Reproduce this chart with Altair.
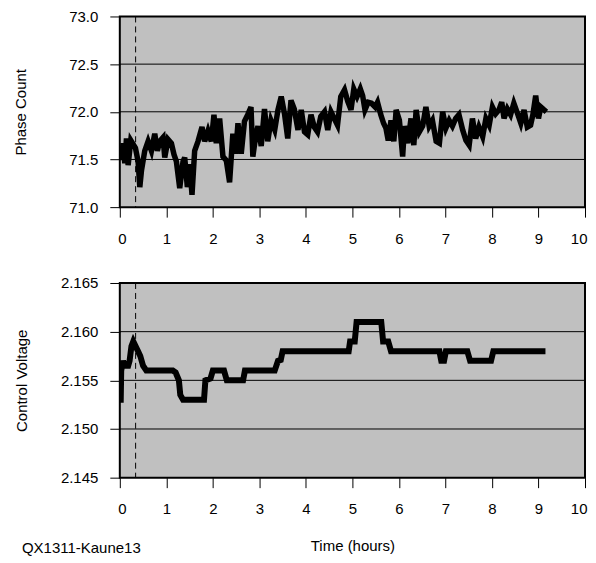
import altair as alt
import pandas as pd

FONT = "Liberation Sans"
FS = 15
W = 466
H1 = 191
H2 = 195

# ---- data ----
phase_t = [0.00, 0.04, 0.07, 0.107, 0.143, 0.179, 0.236, 0.286, 0.336, 0.393, 0.43, 0.465,
           0.536, 0.608, 0.68, 0.751, 0.808, 0.858, 0.93, 0.966, 1.037, 1.109, 1.166, 1.216,
           1.288, 1.359, 1.395, 1.452, 1.502, 1.552, 1.609, 1.681, 1.767, 1.824, 1.896, 1.967,
           2.024, 2.074, 2.146, 2.217, 2.289, 2.36, 2.43, 2.49, 2.54, 2.61, 2.68, 2.75, 2.82,
           2.86, 2.92, 2.97, 3.04, 3.11, 3.18, 3.25, 3.33, 3.40, 3.47, 3.54, 3.61, 3.68, 3.75,
           3.83, 3.90, 3.97, 4.04, 4.11, 4.18, 4.25, 4.32, 4.40, 4.47, 4.54, 4.61, 4.68, 4.75,
           4.83, 4.90, 4.97, 5.03, 5.10, 5.17, 5.22, 5.27, 5.34, 5.41, 5.49, 5.54, 5.61, 5.67,
           5.72, 5.77, 5.83, 5.89, 5.94, 6.01, 6.08, 6.12, 6.19, 6.26, 6.32, 6.37, 6.44, 6.51,
           6.58, 6.65, 6.72, 6.80, 6.87, 6.94, 7.01, 7.08, 7.15, 7.22, 7.29, 7.37, 7.44, 7.51,
           7.58, 7.65, 7.72, 7.80, 7.87, 7.94, 8.01, 8.08, 8.15, 8.21, 8.26, 8.33, 8.40, 8.47,
           8.55, 8.62, 8.69, 8.76, 8.83, 8.88, 8.94, 9.00, 9.05, 9.12, 9.17]
phase_v = [71.55, 71.50, 71.67, 71.46, 71.72, 71.44, 71.70, 71.66, 71.62, 71.48, 71.21, 71.38,
           71.59, 71.69, 71.59, 71.77, 71.59, 71.69, 71.73, 71.52, 71.71, 71.67, 71.55, 71.48,
           71.20, 71.48, 71.52, 71.21, 71.45, 71.13, 71.59, 71.69, 71.84, 71.69, 71.80, 71.69,
           71.97, 71.67, 71.93, 71.53, 71.49, 71.26, 71.77, 71.56, 71.88, 71.56, 71.90, 71.97, 72.05,
           71.53, 71.74, 71.85, 71.64, 72.03, 71.69, 71.91, 71.81, 72.02, 72.16, 71.98, 71.72, 72.12, 72.03,
           71.81, 72.02, 71.79, 71.76, 71.97, 71.84, 71.79, 71.95, 72.00, 71.81, 72.00, 71.93, 71.86, 72.16,
           72.23, 72.11, 72.02, 72.24, 72.16, 72.24, 72.17, 72.02, 72.10, 72.09, 72.05, 72.10, 71.97, 71.88,
           71.83, 71.70, 71.91, 71.69, 72.02, 71.91, 71.53, 71.85, 71.67, 71.93, 71.65, 72.02, 71.79, 71.85,
           72.05, 71.85, 71.91, 71.69, 71.67, 72.00, 71.83, 71.91, 71.85, 71.93, 71.97, 71.81, 71.70, 71.65,
           71.93, 71.72, 71.84, 71.74, 71.93, 71.86, 72.05, 71.98, 72.02, 72.10, 71.93, 72.03, 71.97, 72.09,
           71.98, 71.88, 72.02, 71.84, 71.86, 71.97, 72.17, 71.93, 72.05, 72.02, 72.00]

volt_t = [0.00, 0.02, 0.03, 0.05, 0.07, 0.10, 0.14, 0.18, 0.21, 0.25, 0.29, 0.34, 0.39, 0.44,
          0.50, 0.57, 1.14, 1.20, 1.27, 1.30, 1.36, 1.81, 1.84, 1.95, 2.00, 2.24, 2.30, 2.65,
          2.69, 3.33, 3.40, 3.46, 3.50, 4.92, 4.95, 5.05, 5.09, 5.62, 5.66, 5.77, 5.83, 6.87,
          6.91, 6.97, 7.01, 7.47, 7.53, 7.98, 8.03, 9.15]
volt_v = [2.1530, 2.1530, 2.1560, 2.1565, 2.1570, 2.1565, 2.1565, 2.1565, 2.1570, 2.1585, 2.1590,
          2.1585, 2.1580, 2.1575, 2.1565, 2.1560, 2.1560, 2.1558, 2.1550, 2.1535, 2.1530, 2.1530,
          2.1550, 2.1552, 2.1560, 2.1560, 2.1550, 2.1550, 2.1560, 2.1560, 2.1570, 2.1571, 2.1580,
          2.1580, 2.1590, 2.1590, 2.1610, 2.1610, 2.1590, 2.1590, 2.1580, 2.1580, 2.1570, 2.1570,
          2.1580, 2.1580, 2.1570, 2.1570, 2.1580, 2.1580]

x_ticks = [i * 0.5 for i in range(21)]
phase_ticks = [71 + i * 0.25 for i in range(9)]
volt_ticks = [round(2.145 + i * 0.0025, 4) for i in range(9)]
phase_grid = [71.5, 72.0, 72.5]
volt_grid = [2.150, 2.155, 2.160]
marker_t = [0.34]
footnote = ["QX1311-Kaune13"]

phase_df = pd.DataFrame({"t": phase_t, "v": phase_v})
volt_df = pd.DataFrame({"t": volt_t, "v": volt_v})

x_scale = alt.Scale(domain=[0, 10], nice=False, zero=False)


def x_axis(title=None, label_pad=14, title_pad=22):
    kw = dict(values=x_ticks, labelExpr="datum.value % 1 == 0 ? format(datum.value, 'd') : ''",
              labelPadding=label_pad, labelFlush=True, labelFlushOffset=2)
    if title:
        return alt.Axis(title=title, titlePadding=title_pad, **kw)
    return alt.Axis(title=None, **kw)


def panel(df, ticks, grid, domain, title, fmt_expr, h, title_pad, xtitle, sw):
    y_scale = alt.Scale(domain=domain, nice=False, zero=False)
    base = alt.Chart(df)
    line = base.mark_line(color="black", strokeWidth=sw, clip=True).encode(
        x=alt.X("t:Q", scale=x_scale, axis=x_axis(xtitle)),
        y=alt.Y("v:Q", scale=y_scale,
                axis=alt.Axis(values=ticks, labelExpr=fmt_expr, title=title,
                              titlePadding=title_pad, labelPadding=12)),
    )
    g = alt.Chart(pd.DataFrame({"g": grid})).mark_rule(color="black", strokeWidth=1).encode(
        y=alt.Y("g:Q", scale=y_scale))
    d = alt.Chart(pd.DataFrame({"m": marker_t})).mark_rule(
        color="black", strokeWidth=1, strokeDash=[6, 4]).encode(x=alt.X("m:Q", scale=x_scale))
    return alt.layer(g, d, line).properties(width=W, height=h)


top = panel(phase_df, phase_ticks, phase_grid, [71.0, 73.0], "Phase Count",
            "(datum.value * 2) % 1 == 0 ? format(datum.value, '.1f') : ''", H1, 40, None, 5.5)
bottom = panel(volt_df, volt_ticks, volt_grid, [2.145, 2.165], "Control Voltage",
               "abs(datum.value * 200 - round(datum.value * 200)) < 0.001 ? format(datum.value, '.3f') : ''",
               H2, 31, "Time (hours)", 6)

note = alt.Chart(pd.DataFrame({"n": footnote})).mark_text(
    align="left", baseline="middle", font=FONT, fontSize=FS, color="black").encode(
    x=alt.value(-98), y=alt.value(H2 + 70), text="n:N")

bottom = alt.layer(bottom, note)

chart = alt.vconcat(top, bottom, spacing=28).properties(
    padding={"left": 4, "top": 0, "right": 0, "bottom": 0}
).configure_view(
    fill="#C0C0C0", stroke="black", strokeWidth=2
).configure_axis(
    domain=False, grid=False, tickColor="black", tickSize=10, tickWidth=1,
    labelFont=FONT, labelFontSize=FS, labelColor="black",
    titleFont=FONT, titleFontSize=FS, titleFontWeight="normal", titleColor="black",
)

chart.save("out.html", embed_options={"renderer": "svg", "actions": False})
